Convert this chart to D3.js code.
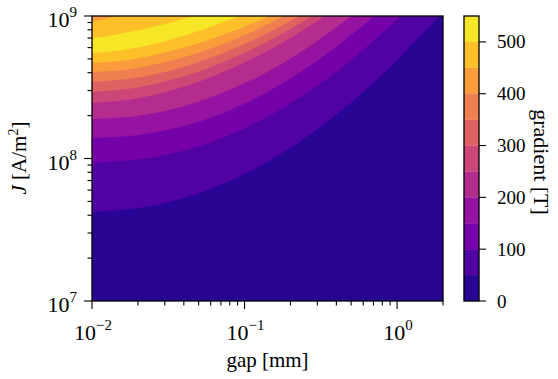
<!DOCTYPE html>
<html><head><meta charset="utf-8">
<script src="https://cdn.jsdelivr.net/npm/d3@7"></script>
<style>body{margin:0;background:#fff}svg{display:block}</style>
</head><body><svg id="chart" width="558" height="379"></svg>
<script>
// contour levels of the filled contour plot (gradient in T)
const levels = [0, 50, 100, 150, 200, 250, 300, 350, 400, 450, 500, 550];
const cbarTicks = [0, 100, 200, 300, 400, 500];
const xMajor = [0.01, 0.1, 1];
const xMinor = [0.02,0.03,0.04,0.05,0.06,0.07,0.08,0.09,0.2,0.3,0.4,0.5,0.6,0.7,0.8,0.9,2];
const yMajor = [1e7, 1e8, 1e9];
const yMinor = [2e7,3e7,4e7,5e7,6e7,7e7,8e7,9e7,2e8,3e8,4e8,5e8,6e8,7e8,8e8,9e8];

// contour lines: [gap (mm), J (A/m^2)]
// lower branches (value rises above each line, toward the top-left)
const contour50  = [[0.01,4.22e7],[0.0285,4.79e7],[0.0813,7.0e7],[0.2317,1.318e8],[0.661,3.2e8],[1.884,1e9]];
const contour100 = [[0.01,9.33e7],[0.0254,1.02e8],[0.0646,1.33e8],[0.1644,2.15e8],[0.418,4.2e8],[1.062,1e9]];
const contour150 = [[0.01,1.393e8],[0.02344,1.50e8],[0.055,1.87e8],[0.1288,2.78e8],[0.302,4.88e8],[0.708,1e9]];
const contour200 = [[0.01,1.892e8],[0.02188,2.02e8],[0.0479,2.47e8],[0.1047,3.45e8],[0.229,5.5e8],[0.501,1e9]];
const contour250 = [[0.01,2.455e8],[0.02023,2.65e8],[0.0409,3.21e8],[0.0828,4.30e8],[0.1675,6.28e8],[0.339,1e9]];
const contour300 = [[0.01,2.93e8],[0.01945,3.14e8],[0.03784,3.71e8],[0.0735,4.78e8],[0.1429,6.66e8],[0.278,1e9]];
const contour350 = [[0.01,3.44e8],[0.0187,3.65e8],[0.035,4.23e8],[0.0653,5.27e8],[0.1222,7.03e8],[0.2286,1e9]];
const contour400 = [[0.01,4.05e8],[0.01786,4.25e8],[0.0319,4.81e8],[0.0571,5.80e8],[0.102,7.41e8],[0.1824,1e9]];
const contour450 = [[0.01,4.68e8],[0.0171,4.91e8],[0.0292,5.49e8],[0.0499,6.43e8],[0.0851,7.87e8],[0.1455,1e9]];
const contour500 = [[0.01,5.5e8],[0.0156,5.75e8],[0.0244,6.31e8],[0.038,7.16e8],[0.0594,8.36e8],[0.0927,1e9]];
// upper branches (value falls again toward the top-left corner)
const contour500up = [[0.01,7.01e8],[0.01365,7.33e8],[0.01858,7.81e8],[0.02535,8.42e8],[0.0345,9.15e8],[0.0471,1e9]];
const contour450up = [[0.01,9.12e8],[0.01189,9.49e8],[0.0141,1e9]];

const svg = d3.select('#chart');
const serif = "'Liberation Serif','Times New Roman',serif";
const pL = 92, pR = 443, pT = 16, pB = 301;

const x = d3.scaleLog().domain([0.01, 2]).range([pL, pR]);
const y = d3.scaleLog().domain([1e7, 1e9]).range([pB, pT]);
const cy = d3.scaleLinear().domain([0, 550]).range([pB, pT]);
const bandColor = i => d3.interpolatePlasma((i + 0.5) / (levels.length - 1));

svg.append('defs').append('clipPath').attr('id', 'clip')
  .append('rect').attr('x', pL).attr('y', pT).attr('width', pR - pL).attr('height', pB - pT);

const plot = svg.append('g').attr('clip-path', 'url(#clip)');
const line = d3.line().x(d => x(d[0])).y(d => y(d[1])).curve(d3.curveMonotoneX);
const corner = [x(0.01), y(1e9)];
const regionPath = pts => line(pts) + `L${corner[0]},${corner[1]}Z`;

// base band 0-50
plot.append('rect').attr('x', pL).attr('y', pT).attr('width', pR - pL).attr('height', pB - pT)
  .attr('fill', bandColor(0));

const lower = [contour50, contour100, contour150, contour200, contour250, contour300, contour350, contour400, contour450, contour500];
lower.forEach((pts, i) => {
  plot.append('path').attr('d', regionPath(pts)).attr('fill', bandColor(i + 1));
});
plot.append('path').attr('d', regionPath(contour500up)).attr('fill', bandColor(levels.indexOf(450)));
plot.append('path').attr('d', regionPath(contour450up)).attr('fill', bandColor(levels.indexOf(400)));

// frame
svg.append('rect').attr('x', pL).attr('y', pT).attr('width', pR - pL).attr('height', pB - pT)
  .attr('fill', 'none').attr('stroke', '#000').attr('stroke-width', 1.3);

// ticks
const ax = svg.append('g').attr('stroke', '#000').attr('stroke-width', 1.1);
xMajor.forEach(v => ax.append('line').attr('x1', x(v)).attr('x2', x(v)).attr('y1', pB).attr('y2', pB + 8));
xMinor.forEach(v => ax.append('line').attr('x1', x(v)).attr('x2', x(v)).attr('y1', pB).attr('y2', pB + 4.5));
yMajor.forEach(v => ax.append('line').attr('y1', y(v)).attr('y2', y(v)).attr('x1', pL).attr('x2', pL - 8));
yMinor.forEach(v => ax.append('line').attr('y1', y(v)).attr('y2', y(v)).attr('x1', pL).attr('x2', pL - 4.5));

function powLabel(t, exp) {
  t.append('tspan').text('10');
  t.append('tspan').attr('dy', -10).attr('font-size', 15).text(exp < 0 ? '\u2212' + (-exp) : String(exp));
}
xMajor.forEach(v => {
  const t = svg.append('text').attr('x', x(v) + 1).attr('y', pB + 39)
    .attr('text-anchor', 'middle').attr('font-family', serif).attr('font-size', 22);
  powLabel(t, Math.round(Math.log10(v)));
});
yMajor.forEach(v => {
  const t = svg.append('text').attr('x', pL - 15).attr('y', y(v) + 11)
    .attr('text-anchor', 'end').attr('font-family', serif).attr('font-size', 22);
  powLabel(t, Math.round(Math.log10(v)));
});

// axis labels
svg.append('text').attr('x', (pL + pR) / 2).attr('y', 367).attr('text-anchor', 'middle')
  .attr('font-family', serif).attr('font-size', 21).text('gap [mm]');
const yl = svg.append('text').attr('transform', 'translate(26,158) rotate(-90)').attr('text-anchor', 'middle')
  .attr('font-family', serif).attr('font-size', 21);
yl.append('tspan').attr('font-style', 'italic').text('J');
yl.append('tspan').text(' [A/m');
yl.append('tspan').attr('dy', -8).attr('font-size', 14).text('2');
yl.append('tspan').attr('dy', 8).text(']');

// colorbar
const cbL = 464, cbR = 479;
const cb = svg.append('g');
d3.range(levels.length - 1).forEach(i => {
  cb.append('rect').attr('x', cbL).attr('width', cbR - cbL)
    .attr('y', cy(levels[i + 1])).attr('height', cy(levels[i]) - cy(levels[i + 1]))
    .attr('fill', bandColor(i)).attr('stroke', bandColor(i)).attr('stroke-width', 0.3);
});
cb.append('rect').attr('x', cbL).attr('y', pT).attr('width', cbR - cbL).attr('height', pB - pT)
  .attr('fill', 'none').attr('stroke', '#000').attr('stroke-width', 1.3);
cbarTicks.forEach(v => {
  cb.append('line').attr('x1', cbR).attr('x2', cbR + 7).attr('y1', cy(v)).attr('y2', cy(v))
    .attr('stroke', '#000').attr('stroke-width', 1.1);
  cb.append('text').attr('x', cbR + 18).attr('y', cy(v) + 6.5).attr('font-family', serif)
    .attr('font-size', 19).text(v);
});
svg.append('text').attr('transform', 'translate(542,162) rotate(90)').attr('text-anchor', 'middle')
  .attr('dy', '0.35em').attr('font-family', serif).attr('font-size', 22).text('gradient [T]');
</script></body></html>
